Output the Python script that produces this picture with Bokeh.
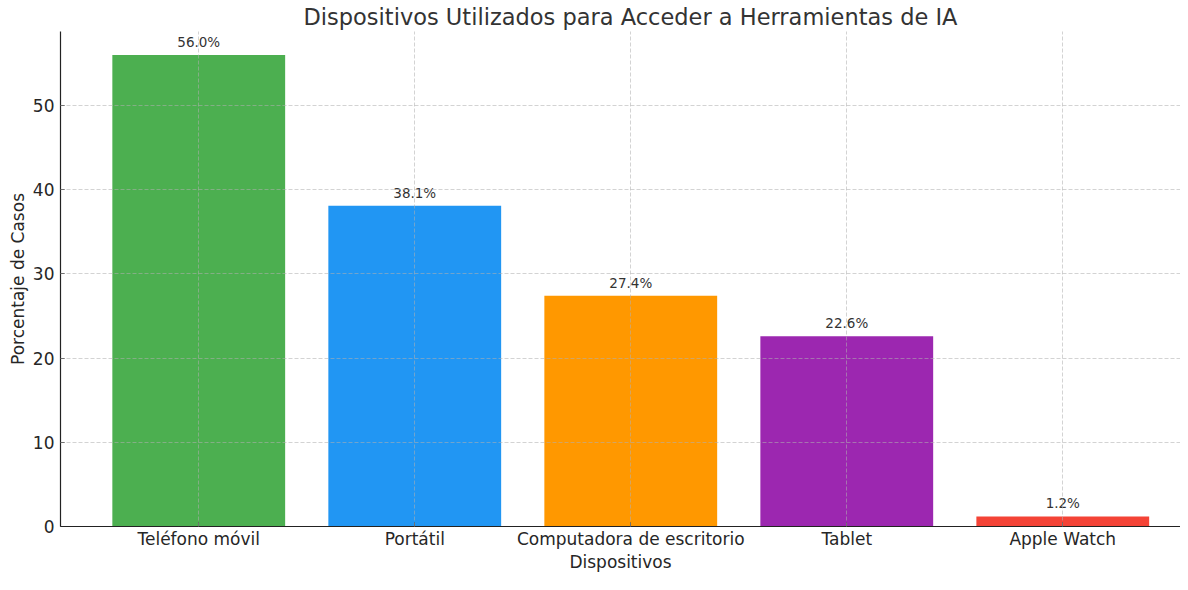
from bokeh.plotting import figure
from bokeh.models import Range1d, FixedTicker, ColumnDataSource
from bokeh.core.properties import value
from bokeh.embed import file_html
from bokeh.resources import INLINE

categories = ["Teléfono móvil", "Portátil", "Computadora de escritorio", "Tablet", "Apple Watch"]
values = [56.0, 38.1, 27.4, 22.6, 1.2]
colors = ["#4CAF50", "#2196F3", "#FF9800", "#9C27B0", "#F44336"]
y_ticks = [0, 10, 20, 30, 40, 50]
title_text = "Dispositivos Utilizados para Acceder a Herramientas de IA"
x_label = "Dispositivos"
y_label = "Porcentaje de Casos"

FONT = "DejaVu Sans"
xs = list(range(len(categories)))
src = ColumnDataSource(dict(x=xs, top=values, color=colors,
                            label=[f"{v:.1f}%" for v in values]))

p = figure(width=1180, height=574, output_backend="svg", toolbar_location=None,
           x_range=Range1d(-0.64, 4.545), y_range=Range1d(0, 58.8),
           min_border_left=60, min_border_right=0, min_border_top=31, min_border_bottom=0)
p.outline_line_color = None
p.background_fill_color = "white"
p.border_fill_color = "white"

p.title.text = title_text
p.title.align = "left"
p.title.offset = 243
p.title.text_font = FONT
p.title.text_font_size = "22.5px"
p.title.text_font_style = "normal"
p.title.text_color = "#333333"
p.title.standoff = 3

p.vbar(x="x", top="top", width=0.8, bottom=0, color="color", line_color=None, source=src)
p.text(x="x", y="top", text="label", source=src, text_align="center", text_baseline="alphabetic",
       y_offset=-13, text_font=value(FONT), text_font_size="13.5px", text_color="#333333")

p.xaxis.ticker = FixedTicker(ticks=xs)
p.xaxis.major_label_overrides = {i: c for i, c in enumerate(categories)}
p.yaxis.ticker = FixedTicker(ticks=y_ticks)

for ax in (p.xaxis[0], p.yaxis[0]):
    ax.axis_line_color = "#222222"
    ax.axis_line_width = 1.2
    ax.major_tick_in = 4
    ax.major_tick_out = 0
    ax.minor_tick_in = 0
    ax.minor_tick_out = 0
    ax.major_tick_line_color = "#222222"
    ax.major_label_text_font = FONT
    ax.major_label_text_font_size = "17px"
    ax.major_label_text_color = "#262626"
    ax.axis_label_text_font = FONT
    ax.axis_label_text_font_size = "17px"
    ax.axis_label_text_font_style = "normal"
    ax.axis_label_text_color = "#262626"

p.xaxis.major_label_standoff = 2
p.xaxis.axis_label = x_label
p.xaxis.axis_label_standoff = 0
p.yaxis.major_label_standoff = 6
p.yaxis.axis_label = y_label
p.yaxis.axis_label_standoff = 2

for g in (p.xgrid[0], p.ygrid[0]):
    g.grid_line_color = "#b0b0b0"
    g.grid_line_alpha = 0.7
    g.grid_line_dash = "4 2"
    g.grid_line_width = 0.8
    g.level = "guide"

open("out.html", "w").write(file_html(p, INLINE))
